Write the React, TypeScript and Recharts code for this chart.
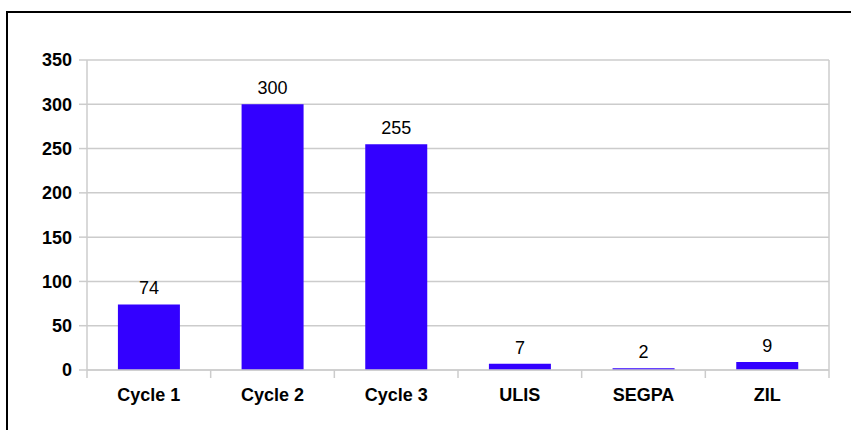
import React from "react";
import { BarChart, Bar, XAxis, YAxis, CartesianGrid, LabelList } from "recharts";

const categories = ["Cycle 1", "Cycle 2", "Cycle 3", "ULIS", "SEGPA", "ZIL"];
const values = [74, 300, 255, 7, 2, 9];
const yTicks = [0, 50, 100, 150, 200, 250, 300, 350];

const data = categories.map((name, i) => ({ name, value: values[i] }));

const W = 851;
const H = 430;
const M = { top: 60, right: 22, bottom: 30, left: 0 };
const Y_AXIS_W = 87;
const X_AXIS_H = 30;
const PLOT_LEFT = M.left + Y_AXIS_W;
const PLOT_RIGHT = W - M.right;
const PLOT_TOP = M.top;
const AXIS_Y = H - M.bottom - X_AXIS_H;
const BAND = (PLOT_RIGHT - PLOT_LEFT) / categories.length;
const GRID = "#cccccc";
const FONT = "'Liberation Sans', Arial, sans-serif";

const XTick = (props: any) => {
  const { x, payload, index } = props;
  const left = x - BAND / 2;
  const right = x + BAND / 2;
  const last = index === categories.length - 1;
  return (
    <g>
      <line x1={left} x2={left} y1={AXIS_Y} y2={AXIS_Y + 8} stroke={GRID} strokeWidth={1.5} />
      {last && (
        <line x1={right} x2={right} y1={PLOT_TOP} y2={AXIS_Y + 8} stroke={GRID} strokeWidth={1.5} />
      )}
      <text
        x={x}
        y={AXIS_Y + 31}
        textAnchor="middle"
        fontFamily={FONT}
        fontWeight="bold"
        fontSize={18}
        fill="#000"
      >
        {payload.value}
      </text>
    </g>
  );
};

export default function App() {
  return (
    <div style={{ position: "fixed", inset: 0, overflow: "hidden", background: "#fff" }}>
      <div
        style={{
          position: "absolute",
          left: 6,
          top: 11,
          width: 900,
          height: 500,
          border: "2px solid #000",
          boxSizing: "border-box",
        }}
      />
      <div style={{ position: "absolute", left: 0, top: 0 }}>
        <BarChart width={W} height={H} data={data} margin={M} barCategoryGap="25%">
          <CartesianGrid horizontal vertical={false} stroke={GRID} strokeWidth={1.5} />
          <XAxis
            dataKey="name"
            height={X_AXIS_H}
            axisLine={{ stroke: GRID, strokeWidth: 1.5 }}
            tickLine={false}
            tick={<XTick />}
            interval={0}
          />
          <YAxis
            width={Y_AXIS_W}
            domain={[0, 350]}
            ticks={yTicks}
            interval={0}
            axisLine={{ stroke: GRID, strokeWidth: 1.5 }}
            tickLine={{ stroke: GRID, strokeWidth: 1.5 }}
            tickSize={8}
            tickMargin={7}
            tick={{ fill: "#000", fontFamily: FONT, fontWeight: "bold", fontSize: 18 }}
          />
          <Bar dataKey="value" fill="#3300ff" isAnimationActive={false}>
            <LabelList
              dataKey="value"
              position="top"
              offset={10}
              fill="#000"
              fontFamily={FONT}
              fontSize={18}
            />
          </Bar>
        </BarChart>
      </div>
    </div>
  );
}
